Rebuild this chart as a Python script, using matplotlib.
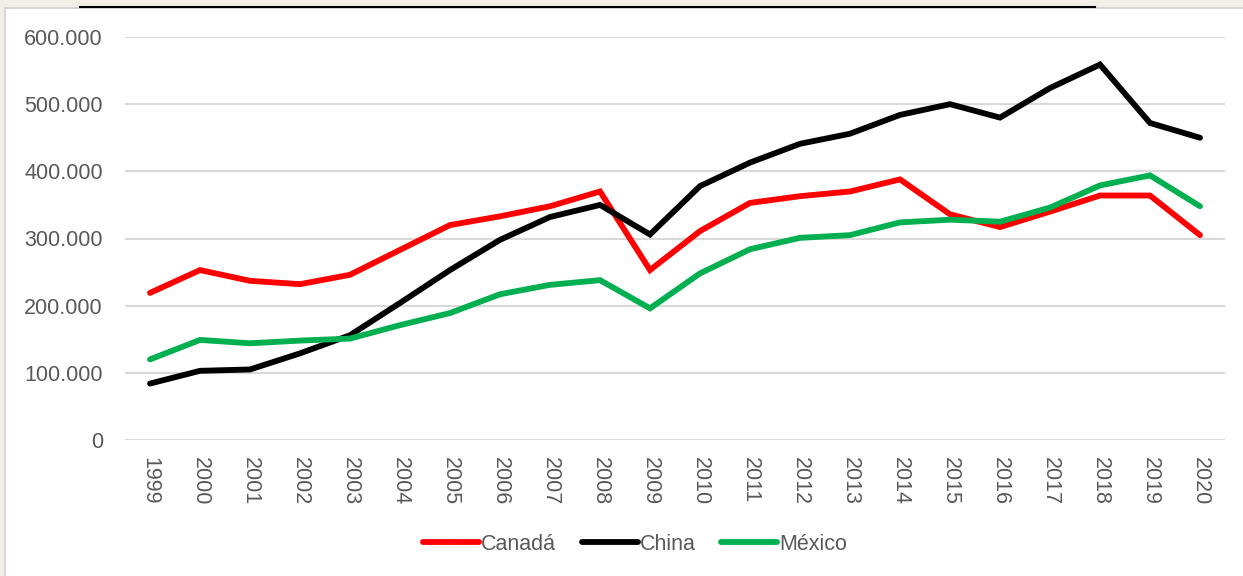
"""Line chart: Canadá / China / México, 1999-2020."""
import matplotlib
matplotlib.use("Agg")
import matplotlib.pyplot as plt
from matplotlib.patches import Rectangle
from matplotlib.ticker import FuncFormatter

plt.rcParams["font.family"] = ["Liberation Sans", "DejaVu Sans"]

years = [str(y) for y in range(1999, 2021)]
canada = [219, 253, 237, 232, 246, 283, 320, 333, 348, 370, 253,
          311, 353, 363, 370, 388, 336, 317, 340, 364, 364, 305]
china = [84, 103, 105, 129, 156, 204, 253, 298, 332, 350, 306,
         378, 413, 441, 456, 484, 500, 480, 524, 559, 472, 450]
mexico = [120, 149, 144, 148, 151, 171, 189, 217, 231, 238, 196,
          248, 284, 301, 305, 324, 328, 325, 346, 379, 394, 348]
series = [("Canadá", canada, "#FF0000"),
          ("China", china, "#000000"),
          ("México", mexico, "#00B050")]

W, H = 1243, 576
fig = plt.figure(figsize=(W / 100, H / 100), dpi=100)
fig.patch.set_facecolor("#F2EEE8")
# white chart box + title underline from the slide
fig.add_artist(Rectangle((5 / W, -0.01), 1, 1.01 - 8 / H, transform=fig.transFigure,
                         facecolor="white", edgecolor="#D0D0D0", lw=1.2, zorder=-5))
fig.add_artist(plt.Line2D([80 / W, 1095 / W], [1 - 7 / H, 1 - 7 / H],
                          transform=fig.transFigure, color="black", lw=1.5))

ax = fig.add_axes([125 / W, 1 - 440 / H, 1100 / W, 403 / H])
ax.patch.set_alpha(0)
x = list(range(len(years)))
for name, vals, col in series:
    ax.plot(x, [v * 1000 for v in vals], color=col, lw=4.2,
            solid_capstyle="round", solid_joinstyle="miter", label=name)

ax.set_xlim(-0.5, len(years) - 0.5)
ax.set_ylim(0, 600000)
ax.set_yticks(range(0, 600001, 100000))
ax.yaxis.set_major_formatter(FuncFormatter(lambda v, _: f"{int(v):,}".replace(",", ".")))
ax.set_xticks(x)
ax.set_xticklabels(years, rotation=270)
ax.tick_params(axis="both", length=0, labelsize=15.5, labelcolor="#595959")
ax.tick_params(axis="y", pad=16)
ax.tick_params(axis="x", pad=12)
ax.grid(axis="y", color="#D9D9D9", lw=1.5)
ax.set_axisbelow(True)
for s in ax.spines.values():
    s.set_visible(False)

leg = fig.legend(loc="center", bbox_to_anchor=(635 / W, 1 - 544 / H), ncol=3,
                 frameon=False, fontsize=15.5, handlelength=2.6, handletextpad=0.1,
                 columnspacing=1.2)
for t in leg.get_texts():
    t.set_color("#595959")

fig.savefig("out.png", dpi=100, facecolor=fig.get_facecolor())
